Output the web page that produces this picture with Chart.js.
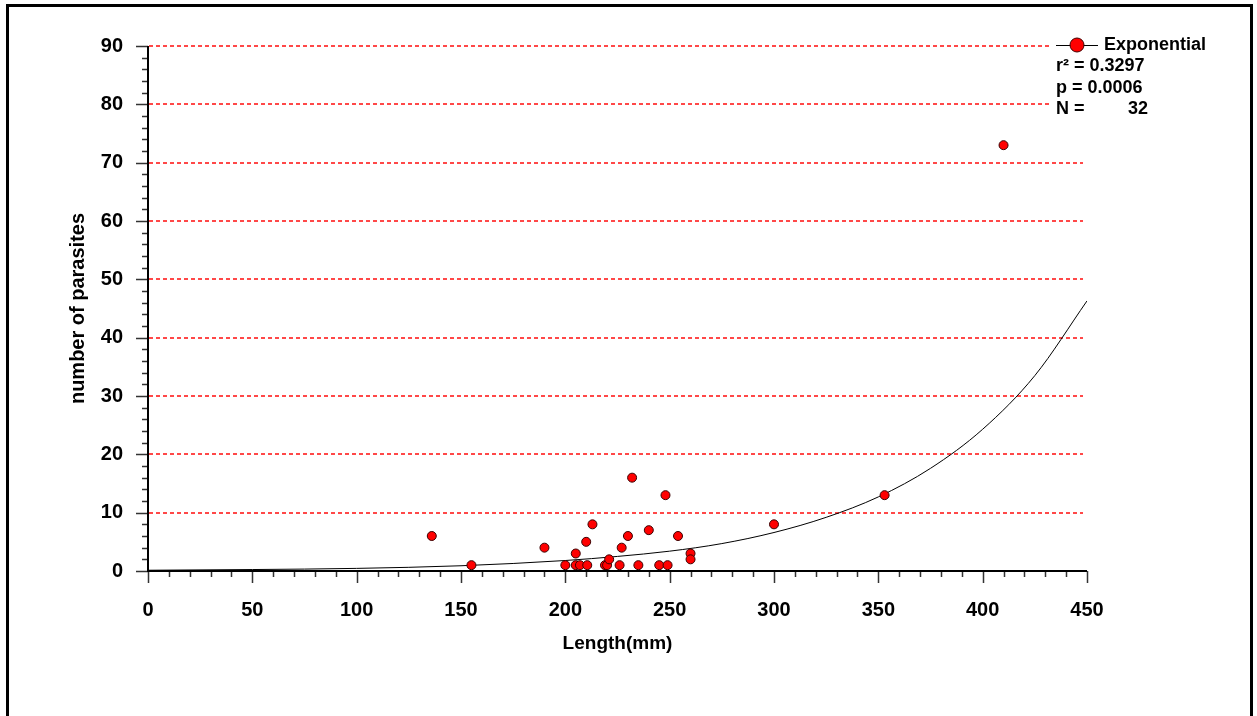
<!DOCTYPE html>
<html>
<head>
<meta charset="utf-8">
<script src="https://cdn.jsdelivr.net/npm/chart.js@4/dist/chart.umd.min.js"></script>
<style>
  html, body { margin: 0; padding: 0; background: #fff; overflow: hidden; }
  #wrap { position: absolute; left: 0; top: 0; width: 1257px; height: 716px; }
  #frame { position: absolute; left: 6px; top: 4px; width: 1241px; height: 730px; border: 3px solid #000; pointer-events: none; }
</style>
</head>
<body>
<div id="wrap"><canvas id="c" width="1257" height="716"></canvas></div>
<div id="frame"></div>
<script>
const lengthMm  = [136, 155, 190, 200, 205, 205, 207, 210, 210.5, 213, 219, 220, 221, 226, 227, 230, 232, 235, 240, 245, 248, 249, 254, 260, 260, 300, 353, 410];
const parasites = [6,   1,   4,   1,   3,   1,   1,   5,   1,     8,   1,   1,   2,   1,   4,   6,   16,  1,   7,   1,   13,  1,   6,   3,   2,   8,   13,  73];

// Fitted exponential curve
const curveLength = [0,    50,   100,  150, 200, 225, 250, 275, 300, 325, 350,  375,  400,  425,  450];
const curveFit    = [0.13, 0.25, 0.45, 0.9, 1.8, 2.5, 3.4, 4.7, 6.6, 9.2, 12.7, 17.6, 24.3, 33.5, 46.3];

// Axis settings and texts
const xRange = [0, 450];
const yRange = [0, 90];
const xTitle = 'Length(mm)';
const yTitle = 'number of parasites';
const legendLabel = 'Exponential';
const statLines = [['r\u00B2 = 0.3297', ''], ['p = 0.0006', ''], ['N =', '32']];

const FONT = '"Liberation Sans", Arial, sans-serif';

const scatterPts = lengthMm.map((x, i) => ({ x: x, y: parasites[i] }));
const curvePts = curveLength.map((x, i) => ({ x: x, y: curveFit[i] }));

const gridPlugin = {
  id: 'gridPlugin',
  beforeDatasetsDraw(chart) {
    const ctx = chart.ctx;
    const xs = chart.scales.x, ys = chart.scales.y;
    const left = xs.getPixelForValue(xRange[0]);
    const right = xs.getPixelForValue(xRange[1]) - 4;
    ctx.save();
    ctx.strokeStyle = '#ff4848';
    ctx.lineWidth = 2;
    ctx.setLineDash([4, 3]);
    for (let v = yRange[0] + 10; v <= yRange[1]; v += 10) {
      const y = Math.round(ys.getPixelForValue(v));
      ctx.beginPath();
      ctx.moveTo(left + 1, y); ctx.lineTo(right, y);
      ctx.stroke();
    }
    ctx.restore();
  }
};

const axesPlugin = {
  id: 'axesPlugin',
  afterDraw(chart) {
    const ctx = chart.ctx;
    const xs = chart.scales.x, ys = chart.scales.y;
    const left = xs.getPixelForValue(xRange[0]);
    const right = xs.getPixelForValue(xRange[1]);
    const bottom = ys.getPixelForValue(yRange[0]);
    const top = ys.getPixelForValue(yRange[1]);
    ctx.save();
    // ticks
    ctx.strokeStyle = '#333';
    ctx.lineWidth = 1.5;
    ctx.beginPath();
    for (let v = yRange[0]; v <= yRange[1]; v += 2) {
      const y = Math.round(ys.getPixelForValue(v)) + 0.5;
      const len = (v % 10 === 0) ? 12 : 6;
      ctx.moveTo(left - len, y); ctx.lineTo(left, y);
    }
    for (let v = xRange[0]; v <= xRange[1]; v += 10) {
      const x = Math.round(xs.getPixelForValue(v)) + 0.5;
      const len = (v % 50 === 0) ? 12 : 6;
      ctx.moveTo(x, bottom); ctx.lineTo(x, bottom + len);
    }
    ctx.stroke();
    // axis lines
    ctx.strokeStyle = '#000';
    ctx.lineWidth = 2;
    ctx.beginPath();
    ctx.moveTo(left, top); ctx.lineTo(left, bottom + 1);
    ctx.moveTo(left - 1, bottom); ctx.lineTo(right, bottom);
    ctx.stroke();

    // legend
    ctx.fillStyle = '#fff';
    ctx.fillRect(1049, 33, 140, 85);
    ctx.strokeStyle = '#000';
    ctx.lineWidth = 1;
    ctx.beginPath();
    ctx.moveTo(1056, 45.5); ctx.lineTo(1098, 45.5);
    ctx.stroke();
    ctx.beginPath();
    ctx.arc(1077, 45, 7, 0, Math.PI * 2);
    ctx.fillStyle = '#ff0000';
    ctx.fill();
    ctx.strokeStyle = '#400';
    ctx.stroke();
    ctx.fillStyle = '#000';
    ctx.font = 'bold 18px ' + FONT;
    ctx.textBaseline = 'middle';
    ctx.textAlign = 'left';
    ctx.fillText(legendLabel, 1104, 45);
    const ys2 = [66, 88, 109];
    statLines.forEach((ln, i) => {
      ctx.textAlign = 'left';
      ctx.fillText(ln[0], 1056, ys2[i]);
      if (ln[1]) { ctx.textAlign = 'right'; ctx.fillText(ln[1], 1148, ys2[i]); }
    });
    ctx.restore();
  }
};

new Chart(document.getElementById('c'), {
  data: {
    datasets: [
      {
        type: 'scatter',
        label: legendLabel,
        data: scatterPts,
        backgroundColor: '#ff0000',
        borderColor: '#3a0000',
        borderWidth: 1,
        pointRadius: 4.5,
        pointHoverRadius: 4.5
      },
      {
        type: 'line',
        label: 'fit',
        data: curvePts,
        borderColor: '#000',
        borderWidth: 1,
        pointRadius: 0,
        fill: false,
        cubicInterpolationMode: 'monotone'
      }
    ]
  },
  options: {
    responsive: false,
    animation: false,
    events: [],
    layout: { padding: { left: 0, top: 46, right: 170, bottom: 0 } },
    plugins: { legend: { display: false }, tooltip: { enabled: false } },
    scales: {
      x: {
        type: 'linear',
        min: xRange[0], max: xRange[1],
        afterFit(s) { s.height = 145; },
        grid: { display: false, drawTicks: false },
        border: { display: false },
        ticks: {
          stepSize: 50, padding: 27, color: '#000',
          maxRotation: 0, autoSkip: false,
          font: { family: FONT, size: 20, weight: 'bold' }
        },
        title: {
          display: true, text: xTitle, color: '#000',
          font: { family: FONT, size: 19, weight: 'bold' },
          padding: { top: 0, bottom: 61 }
        }
      },
      y: {
        type: 'linear',
        min: yRange[0], max: yRange[1],
        afterFit(s) { s.width = 148; },
        grid: { display: false, drawTicks: false },
        border: { display: false },
        ticks: {
          stepSize: 10, padding: 25, color: '#000',
          font: { family: FONT, size: 20, weight: 'bold' }
        },
        title: {
          display: true, text: yTitle, color: '#000',
          font: { family: FONT, size: 20, weight: 'bold' },
          padding: { top: 66, bottom: 0 }
        }
      }
    }
  },
  plugins: [gridPlugin, axesPlugin]
});
</script>
</body>
</html>
